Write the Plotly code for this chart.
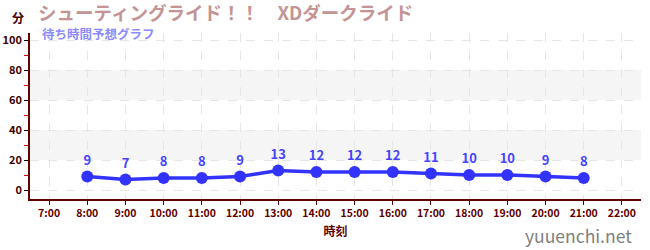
import plotly.graph_objects as go

hours = [8, 9, 10, 11, 12, 13, 14, 15, 16, 17, 18, 19, 20, 21]
waits = [9, 7, 8, 8, 9, 13, 12, 12, 12, 11, 10, 10, 9, 8]
tick_hours = list(range(7, 23))
tick_labels = [f"{h}:00" for h in tick_hours]
y_ticks = [0, 20, 40, 60, 80, 100]
bands = [(20, 40), (60, 80)]

title_text = "シューティングライド！！　XDダークライド"
subtitle_text = "待ち時間予想グラフ"
font_family = "Noto Sans CJK JP"

fig = go.Figure()
fig.add_trace(go.Scatter(
    x=hours, y=waits, mode="lines+markers+text",
    text=[str(v) for v in waits], textposition="top center",
    textfont=dict(color="#4444ff", size=13, family=font_family, weight="bold"),
    line=dict(color="#3333ff", width=3.5),
    marker=dict(color="#3333ff", size=12),
    cliponaxis=False, hoverinfo="skip",
))

for y0, y1 in bands:
    fig.add_shape(type="rect", xref="paper", yref="y", x0=0, x1=1, y0=y0, y1=y1,
                  fillcolor="#f5f5f5", line_width=0, layer="below")

fig.update_layout(
    width=650, height=250,
    margin=dict(l=30, r=9, t=33, b=51, autoexpand=False),
    paper_bgcolor="white", plot_bgcolor="white",
    showlegend=False,
    font=dict(family=font_family),
)
fig.update_xaxes(
    range=[6.5, 22.5], tickvals=tick_hours, ticktext=tick_labels,
    showgrid=True, gridcolor="#e6e6e6", griddash="dash", gridwidth=1,
    showline=True, linecolor="#600000", linewidth=1.5,
    ticks="outside", ticklen=4, tickcolor="#600000",
    tickfont=dict(size=10.5, color="#600000", family=font_family, weight="bold"),
    title=dict(text="時刻", font=dict(size=12, color="#600000", family=font_family, weight="bold"), standoff=8),
    zeroline=False, fixedrange=True, automargin=False,
)
fig.update_yaxes(
    range=[-6, 104.7], tickvals=y_ticks,
    showgrid=True, gridcolor="#e6e6e6", griddash="dash", gridwidth=1,
    showline=True, linecolor="#600000", linewidth=1.5,
    ticks="outside", ticklen=4, tickcolor="#000000",
    tickfont=dict(size=11, color="#400000", family=font_family, weight="bold"),
    minor=dict(tickvals=[10, 30, 50, 70, 90], ticks="outside", ticklen=4, tickcolor="#dd0000", showgrid=False),
    zeroline=False, fixedrange=True, automargin=False,
)

fig.add_annotation(xref="paper", yref="paper", x=-0.0196, y=1.096,
                   xanchor="center", yanchor="middle", text="分", showarrow=False,
                   font=dict(size=12, color="#400000", family=font_family, weight="bold"))
fig.add_annotation(xref="paper", yref="paper", x=0.0098, y=1.126,
                   xanchor="left", yanchor="middle", text=title_text, showarrow=False,
                   font=dict(size=18.5, color="#c49494", family=font_family, weight="bold"))
fig.add_annotation(xref="paper", yref="paper", x=0.0164, y=0.998,
                   xanchor="left", yanchor="middle", text=subtitle_text, showarrow=False,
                   font=dict(size=12.5, color="#8c8cff", family=font_family, weight="bold"))
fig.add_annotation(xref="paper", yref="paper", x=0.9885, y=-0.217,
                   xanchor="right", yanchor="middle", text="yuuenchi.net", showarrow=False,
                   font=dict(size=17.5, color="#808080", family=font_family))

fig.write_html("out.html")
